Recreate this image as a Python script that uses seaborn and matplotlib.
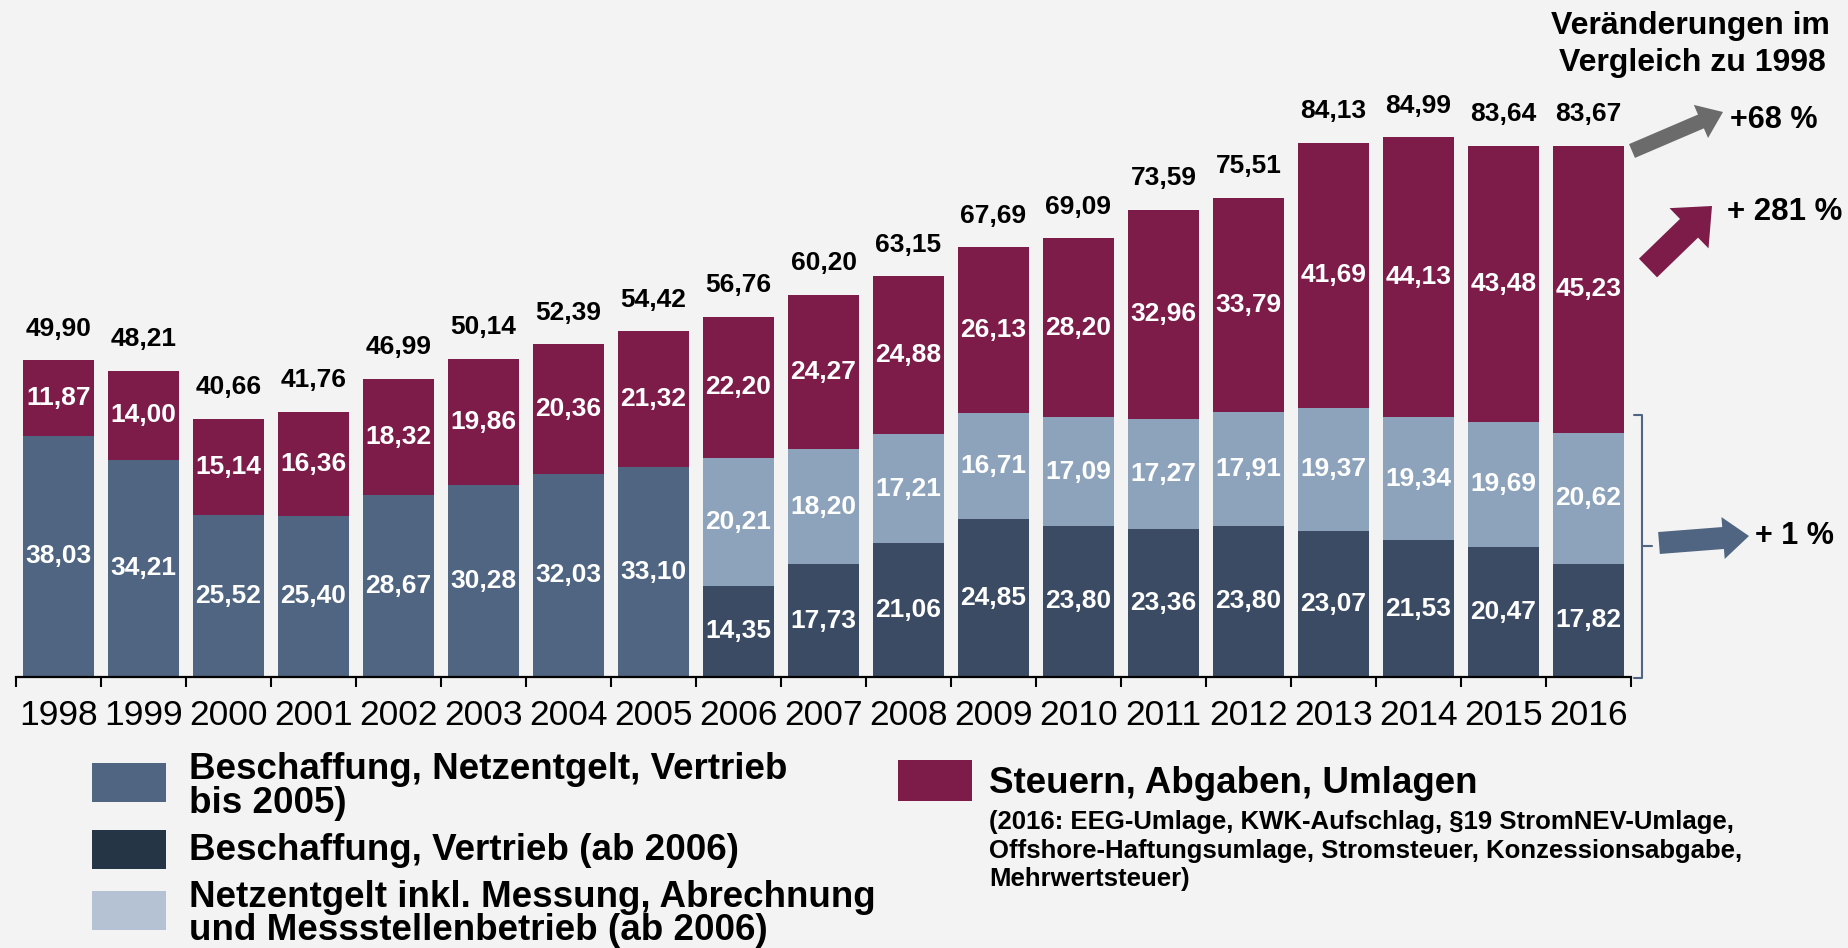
import numpy as np
import pandas as pd
import seaborn as sns
import matplotlib.pyplot as plt
from matplotlib.patches import Rectangle, FancyArrow
from matplotlib.lines import Line2D

# Strompreis-Bestandteile (ct/kWh), 1998 - 2016
years = ['1998', '1999', '2000', '2001', '2002', '2003', '2004', '2005', '2006', '2007',
         '2008', '2009', '2010', '2011', '2012', '2013', '2014', '2015', '2016']
bis_2005 = [38.03, 34.21, 25.52, 25.40, 28.67, 30.28, 32.03, 33.10, 0, 0,
            0, 0, 0, 0, 0, 0, 0, 0, 0]
beschaffung_vertrieb = [0, 0, 0, 0, 0, 0, 0, 0, 14.35, 17.73,
                        21.06, 24.85, 23.80, 23.36, 23.80, 23.07, 21.53, 20.47, 17.82]
netzentgelt = [0, 0, 0, 0, 0, 0, 0, 0, 20.21, 18.20,
               17.21, 16.71, 17.09, 17.27, 17.91, 19.37, 19.34, 19.69, 20.62]
steuern = [11.87, 14.00, 15.14, 16.36, 18.32, 19.86, 20.36, 21.32, 22.20, 24.27,
           24.88, 26.13, 28.20, 32.96, 33.79, 41.69, 44.13, 43.48, 45.23]
totals = [49.90, 48.21, 40.66, 41.76, 46.99, 50.14, 52.39, 54.42, 56.76, 60.20,
          63.15, 67.69, 69.09, 73.59, 75.51, 84.13, 84.99, 83.64, 83.67]

BG = '#f3f3f3'
C_OLD = '#4f6581'
C_DARK = '#3a4b63'
C_LIGHT = '#8ca3bb'
C_RED = '#7d1b49'
C_DARK_LEG = '#263545'
C_LIGHT_LEG = '#b4c2d4'

sns.set_theme(style='white', rc={'axes.facecolor': BG, 'figure.facecolor': BG})
plt.rcParams['font.family'] = ['Liberation Sans', 'DejaVu Sans']

df = pd.DataFrame({'Jahr': years, 'bis2005': bis_2005, 'beschaffung': beschaffung_vertrieb,
                   'netz': netzentgelt, 'steuern': steuern})

W, H = 1848, 948
fig = plt.figure(figsize=(W / 100, H / 100), dpi=100)
ax = fig.add_axes([16 / W, 271 / H, 1615 / W, 635 / H])


def fmt(v):
    return f'{v:.2f}'.replace('.', ',')


layers = [('bis2005', C_OLD), ('beschaffung', C_DARK), ('netz', C_LIGHT), ('steuern', C_RED)]
bottom = np.zeros(len(years))
for col, c in layers:
    sns.barplot(ax=ax, data=df, x='Jahr', y=col, order=years, color=c, saturation=1,
                width=0.835, errorbar=None, linewidth=0, bottom=bottom.copy())
    bottom += df[col].to_numpy()

for cont, (col, c) in zip(ax.containers, layers):
    labs = [fmt(v) if v > 0 else '' for v in df[col]]
    ax.bar_label(cont, labels=labs, label_type='center', color='white',
                 fontsize=19, fontweight='bold')
ax.bar_label(ax.containers[-1], labels=[fmt(v) for v in totals], padding=14,
             color='black', fontsize=19, fontweight='bold')

ax.set_xlim(-0.5, len(years) - 0.5)
ax.set_ylim(0, 100)
ax.set_xlabel('')
ax.set_ylabel('')
ax.set_yticks([])
for s in ['left', 'top', 'right']:
    ax.spines[s].set_visible(False)
ax.spines['bottom'].set_color('black')
ax.spines['bottom'].set_linewidth(1.6)
ax.set_xticks(np.arange(-0.5, len(years)), minor=True)
ax.tick_params(axis='x', which='major', length=0, pad=16, labelsize=25.5, labelcolor='black')
ax.tick_params(axis='x', which='minor', bottom=True, length=7.5, width=1.5, color='black')


# helpers for figure pixel positions (y measured from top)
def fx(x):
    return x / W


def fy(y):
    return 1 - y / H


def inch(x, y):
    return x / 100, (H - y) / 100


# legend, left column
def swatch(x0, y0, w, h, c):
    fig.add_artist(Rectangle((fx(x0), fy(y0 + h)), w / W, h / H, transform=fig.transFigure,
                             color=c, lw=0))


swatch(92, 763, 74, 39, C_OLD)
swatch(92, 830, 74, 39, C_DARK_LEG)
swatch(92, 891, 74, 39, C_LIGHT_LEG)
leg_left = [('Beschaffung, Netzentgelt, Vertrieb', 779), ('bis 2005)', 813),
            ('Beschaffung, Vertrieb (ab 2006)', 860),
            ('Netzentgelt inkl. Messung, Abrechnung', 907),
            ('und Messstellenbetrieb (ab 2006)', 940)]
for txt, yb in leg_left:
    fig.text(fx(189), fy(yb), txt, fontsize=26.5, fontweight='bold', va='baseline', color='black')

# legend, right column
swatch(898, 760, 74, 41, C_RED)
fig.text(fx(989), fy(793), 'Steuern, Abgaben, Umlagen', fontsize=26.5, fontweight='bold',
         va='baseline', color='black')
sub_lines = [('(2016: EEG-Umlage, KWK-Aufschlag, §19 StromNEV-Umlage,', 829),
             ('Offshore-Haftungsumlage, Stromsteuer, Konzessionsabgabe,', 858),
             ('Mehrwertsteuer)', 886)]
for txt, yb in sub_lines:
    fig.text(fx(989), fy(yb), txt, fontsize=18.5, fontweight='bold', va='baseline', color='black')

# changes compared to 1998
fig.text(fx(1690), fy(34), 'Veränderungen im', fontsize=23, fontweight='bold',
         ha='center', va='baseline', color='black')
fig.text(fx(1692), fy(71), 'Vergleich zu 1998', fontsize=23, fontweight='bold',
         ha='center', va='baseline', color='black')


def arrow(x0, y0, x1, y1, w, hw, hl, c):
    (a, b), (c1, d1) = inch(x0, y0), inch(x1, y1)
    fig.add_artist(FancyArrow(a, b, c1 - a, d1 - b, width=w / 100, head_width=hw / 100,
                              head_length=hl / 100, length_includes_head=True,
                              transform=fig.dpi_scale_trans, color=c, lw=0))


arrow(1632, 151, 1723, 112, 15, 36, 24, '#6b6b6b')
arrow(1648, 268, 1712, 206, 26, 56, 32, C_RED)
arrow(1659, 543, 1749, 536, 22, 42, 26, C_OLD)

fig.text(fx(1730), fy(120), '+68 %', fontsize=22, fontweight='bold', va='center', color='black')
fig.text(fx(1727), fy(212), '+ 281 %', fontsize=22.5, fontweight='bold', va='center', color='black')
fig.text(fx(1755), fy(536), '+ 1 %', fontsize=22, fontweight='bold', va='center', color='black')

# bracket around network + procurement parts
bx = [fx(1634), fx(1642), fx(1642), fx(1634)]
by = [fy(415), fy(415), fy(678), fy(678)]
fig.add_artist(Line2D(bx, by, transform=fig.transFigure, color=C_OLD, lw=1.5))
fig.add_artist(Line2D([fx(1642), fx(1652)], [fy(546), fy(546)], transform=fig.transFigure,
                      color=C_OLD, lw=1.5))

fig.savefig('out.png', dpi=100, facecolor=BG)
